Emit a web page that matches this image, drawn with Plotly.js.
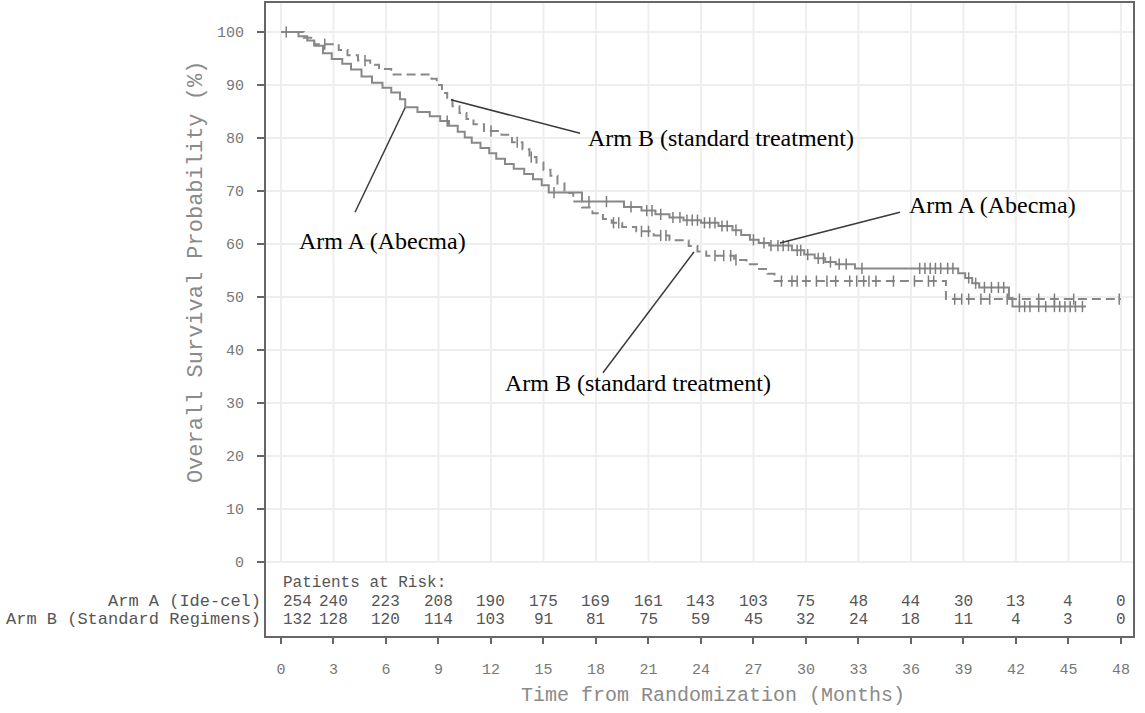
<!DOCTYPE html>
<html><head><meta charset="utf-8">
<script src="https://cdn.plot.ly/plotly-3.0.1.min.js"></script>
<style>html,body{margin:0;padding:0;background:#fff}#chart{width:1145px;height:713px}</style>
</head><body><div id="chart"></div>
<script>
// Arm A (Ide-cel / Abecma) Kaplan-Meier steps (months, % surviving)
const armA_time = [0, 1.0, 1.5, 1.9, 2.4, 2.9, 3.5, 4.0, 4.6, 5.2, 5.8, 6.3, 6.8, 7.1, 7.8, 8.5, 9.1, 9.6, 10.1, 10.5, 10.9, 11.4, 11.9, 12.3, 12.8, 13.3, 13.9, 14.4, 14.9, 15.3, 17.2, 19.6, 20.6, 21.4, 22.2, 23.0, 24.0, 25.0, 25.8, 26.3, 26.8, 27.3, 27.9, 29.2, 29.9, 30.5, 31.1, 31.7, 32.8, 38.7, 39.1, 39.5, 39.9, 41.6, 41.8];
const armA_surv = [100, 99.2, 98.4, 97.4, 96.0, 94.9, 94.0, 92.9, 91.6, 90.4, 89.5, 88.6, 87.3, 85.8, 84.9, 84.1, 83.2, 82.3, 81.2, 80.1, 79.1, 78.1, 77.1, 76.1, 75.1, 74.2, 73.2, 72.2, 71.1, 69.7, 68.0, 67.0, 66.3, 65.6, 65.0, 64.5, 64.0, 63.4, 62.6, 61.7, 60.8, 60.2, 59.7, 58.8, 58.0, 57.3, 56.6, 56.2, 55.4, 54.5, 53.6, 52.6, 51.8, 49.8, 48.2];
const armA_end = 46.0;
const armA_censor = [0.3, 9.5, 15.6, 17.6, 18.6, 20.0, 20.9, 21.2, 21.7, 22.4, 22.8, 23.2, 23.5, 23.8, 24.2, 24.5, 24.8, 25.2, 25.5, 26.0, 27.0, 27.6, 28.0, 28.4, 28.7, 29.0, 29.5, 29.7, 30.1, 30.7, 31.0, 31.4, 31.9, 32.3, 33.2, 36.5, 36.8, 37.1, 37.4, 37.7, 38.1, 38.4, 39.3, 39.7, 40.2, 40.6, 41.0, 41.3, 42.2, 42.5, 42.8, 43.3, 43.7, 44.2, 44.5, 44.8, 45.1, 45.4, 45.8];

// Arm B (standard regimens) Kaplan-Meier steps
const armB_time = [0, 1.3, 1.9, 3.3, 3.8, 4.4, 5.1, 5.6, 6.3, 8.6, 8.9, 9.2, 9.5, 9.8, 10.2, 10.6, 11.0, 11.6, 12.6, 13.2, 13.8, 14.2, 14.6, 15.0, 15.4, 15.8, 16.2, 16.7, 17.2, 17.8, 18.4, 18.9, 19.5, 20.3, 21.3, 22.2, 23.3, 23.8, 24.3, 25.9, 26.6, 27.2, 27.8, 28.2, 38.0];
const armB_surv = [100, 98.9, 97.7, 96.6, 95.6, 94.6, 93.8, 93.0, 92.0, 91.2, 90.0, 88.5, 87.2, 86.0, 84.7, 83.6, 82.6, 81.3, 80.6, 79.2, 77.9, 76.4, 75.4, 74.0, 72.9, 71.4, 69.6, 68.0, 66.9, 65.8, 64.7, 64.0, 63.2, 62.4, 61.6, 60.7, 59.6, 58.6, 57.8, 57.0, 56.2, 55.3, 54.4, 53.0, 49.6];
const armB_end = 48.0;
const armB_censor = [2.5, 4.8, 12.0, 13.5, 14.3, 19.0, 19.3, 20.6, 21.0, 21.7, 22.0, 24.8, 25.3, 25.7, 26.0, 28.6, 29.2, 29.5, 30.0, 30.6, 31.2, 31.7, 32.5, 32.9, 33.3, 33.6, 34.0, 35.0, 36.2, 37.0, 37.3, 38.5, 38.9, 39.3, 40.0, 40.5, 41.5, 42.2, 43.3, 44.2, 45.3, 47.9];

// Axis ticks and number-at-risk table
const xTicks = [0, 3, 6, 9, 12, 15, 18, 21, 24, 27, 30, 33, 36, 39, 42, 45, 48];
const yTicks = [0, 10, 20, 30, 40, 50, 60, 70, 80, 90, 100];
const riskA = [254, 240, 223, 208, 190, 175, 169, 161, 143, 103, 75, 48, 44, 30, 13, 4, 0];
const riskB = [132, 128, 120, 114, 103, 91, 81, 75, 59, 45, 32, 24, 18, 11, 4, 3, 0];
const riskLabelA = 'Arm A (Ide-cel)';
const riskLabelB = 'Arm B (Standard Regimens)';
const riskHeader = 'Patients at Risk:';
const xTitle = 'Time from Randomization (Months)';
const yTitle = 'Overall Survival Probability (%)';

function stepAt(ts, ss, t) { let v = ss[0]; for (let i = 0; i < ts.length; i++) { if (ts[i] <= t) v = ss[i]; } return v; }

const MONO = 'Liberation Mono, Courier New, monospace';
const SERIF = 'Liberation Serif, Times New Roman, serif';
const curveCol = '#888888';

const traces = [
  {x: armA_time.concat([armA_end]), y: armA_surv.concat([armA_surv[armA_surv.length-1]]), type: 'scatter', mode: 'lines',
   line: {shape: 'hv', color: curveCol, width: 2}, showlegend: false},
  {x: armB_time.concat([armB_end]), y: armB_surv.concat([armB_surv[armB_surv.length-1]]), type: 'scatter', mode: 'lines',
   line: {shape: 'hv', color: curveCol, width: 2, dash: '9px,5px'}, showlegend: false},
  {x: armA_censor, y: armA_censor.map(t => stepAt(armA_time, armA_surv, t)), type: 'scatter', mode: 'markers',
   marker: {symbol: 'line-ns', size: 8, line: {width: 1.5, color: '#7d7d7d'}}, showlegend: false},
  {x: armB_censor, y: armB_censor.map(t => stepAt(armB_time, armB_surv, t)), type: 'scatter', mode: 'markers',
   marker: {symbol: 'line-ns', size: 8, line: {width: 1.5, color: '#7d7d7d'}}, showlegend: false}
];

const annotations = [];
const tblFont = {family: MONO, size: 16, color: '#555'};
const lblFont = {family: MONO, size: 17, color: '#555'};
annotations.push({x: 0, y: -3.9, xref: 'x', yref: 'y', text: riskHeader, showarrow: false, xanchor: 'left', yanchor: 'middle', font: tblFont});
xTicks.forEach((t, i) => {
  annotations.push({x: t, y: -7.5, xref: 'x', yref: 'y', text: String(riskA[i]), showarrow: false,
    xanchor: i === 0 ? 'left' : 'center', yanchor: 'middle', font: tblFont});
  annotations.push({x: t, y: -10.9, xref: 'x', yref: 'y', text: String(riskB[i]), showarrow: false,
    xanchor: i === 0 ? 'left' : 'center', yanchor: 'middle', font: tblFont});
});
annotations.push({x: 0, xref: 'paper', xshift: -3, y: -7.5, yref: 'y', text: riskLabelA, showarrow: false, xanchor: 'right', yanchor: 'middle', font: lblFont});
annotations.push({x: 0, xref: 'paper', xshift: -3, y: -10.9, yref: 'y', text: riskLabelB, showarrow: false, xanchor: 'right', yanchor: 'middle', font: lblFont});
// axis titles
annotations.push({x: 0, xref: 'paper', xshift: -70, y: 54.7, yref: 'y', text: yTitle, textangle: -90, showarrow: false,
  xanchor: 'center', yanchor: 'middle', font: {family: MONO, size: 22, color: '#8a8a8a'}});
annotations.push({x: 24.7, xref: 'x', y: 0, yref: 'paper', yshift: -59, text: xTitle, showarrow: false,
  xanchor: 'center', yanchor: 'middle', font: {family: MONO, size: 20, color: '#8a8a8a'}});
// callouts
const callFont = {family: SERIF, size: 24, color: '#000'};
annotations.push({x: 17.43, y: 80.0, xref: 'x', yref: 'y', text: 'Arm B (standard treatment)', showarrow: false, xanchor: 'left', yanchor: 'middle', font: callFont});
annotations.push({x: 5.80, y: 60.6, xref: 'x', yref: 'y', text: 'Arm A (Abecma)', showarrow: false, xanchor: 'center', yanchor: 'middle', font: callFont});
annotations.push({x: 35.77, y: 67.4, xref: 'x', yref: 'y', text: 'Arm A (Abecma)', showarrow: false, xanchor: 'left', yanchor: 'middle', font: callFont});
annotations.push({x: 20.4, y: 33.8, xref: 'x', yref: 'y', text: 'Arm B (standard treatment)', showarrow: false, xanchor: 'center', yanchor: 'middle', font: callFont});

const shapes = [];
xTicks.forEach(t => shapes.push({type: 'line', xref: 'x', yref: 'y', x0: t, x1: t, y0: 0, y1: 105.4, layer: 'below', line: {color: '#eeeeee', width: 2}}));
const lineStyle = {color: '#3a3a3a', width: 1.5};
shapes.push({type: 'line', xref: 'x', yref: 'y', x0: 9.71, y0: 87.2, x1: 17.09, y1: 80.9, line: lineStyle});
shapes.push({type: 'line', xref: 'x', yref: 'y', x0: 7.09, y0: 85.7, x1: 4.23, y1: 66.0, line: lineStyle});
shapes.push({type: 'line', xref: 'x', yref: 'y', x0: 28.51, y0: 60.2, x1: 35.37, y1: 66.0, line: lineStyle});
shapes.push({type: 'line', xref: 'x', yref: 'y', x0: 23.6, y0: 58.5, x1: 18.4, y1: 35.7, line: lineStyle});

const layout = {
  width: 1145, height: 713,
  margin: {l: 266, r: 12, t: 3, b: 77},
  paper_bgcolor: '#fff', plot_bgcolor: '#fff',
  showlegend: false,
  xaxis: {range: [-0.857, 48.69], tickvals: xTicks, ticktext: xTicks.map(String), ticks: 'outside', ticklen: 6, tickwidth: 2, tickcolor: '#666',
    showline: true, mirror: true, linecolor: '#666', linewidth: 2, showgrid: false, zeroline: false,
    tickfont: {family: MONO, size: 15, color: '#777'}, ticklabelstandoff: 12},
  yaxis: {range: [-13.96, 105.47], tickvals: yTicks, ticktext: yTicks.map(String), ticks: 'outside', ticklen: 7, tickwidth: 2, tickcolor: '#666',
    showline: true, mirror: true, linecolor: '#666', linewidth: 2, showgrid: true, gridcolor: '#eeeeee', gridwidth: 2, zeroline: false,
    tickfont: {family: MONO, size: 15, color: '#777'}, ticklabelstandoff: 10},
  annotations: annotations,
  shapes: shapes
};
Plotly.newPlot('chart', traces, layout, {staticPlot: true, displayModeBar: false});
</script>
</body></html>
